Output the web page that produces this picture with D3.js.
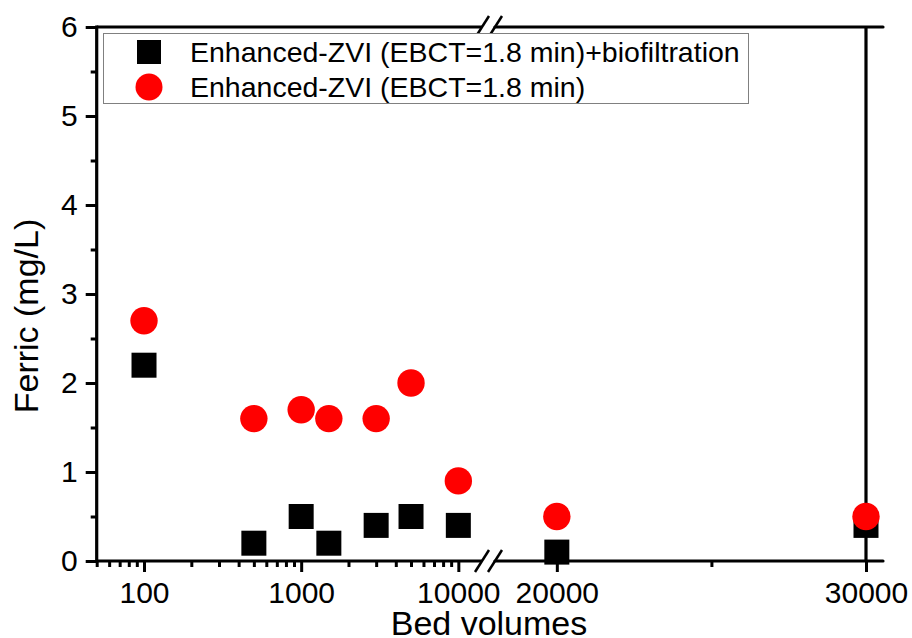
<!DOCTYPE html>
<html>
<head>
<meta charset="utf-8">
<script src="https://cdnjs.cloudflare.com/ajax/libs/d3/7.8.5/d3.min.js"></script>
<style>
	body { margin: 0; background: #fff; }
	svg { display: block; font-family: Arial, "Liberation Sans", sans-serif; }
	.tick text { font-size: 30px; fill: #000; }
	.axis-description { font-size: 34px; fill: #000; }
	.legend-text { font-size: 28.5px; fill: #000; }
</style>
</head>
<body>
<div id="chart"></div>
<script>
const containerWidth = 912;
const containerHeight = 638;

// data
const bedVolumes = [100, 500, 1000, 1500, 3000, 5000, 10000, 20000, 30000];
const ferricBio = [2.2, 0.2, 0.5, 0.2, 0.4, 0.5, 0.4, 0.1, 0.4];
const ferricZvi = [2.7, 1.6, 1.7, 1.6, 1.6, 2.0, 0.9, 0.5, 0.5];
const seriesNames = ["Enhanced-ZVI (EBCT=1.8 min)+biofiltration", "Enhanced-ZVI (EBCT=1.8 min)"];

const leftMajor = [100, 1000, 10000];
const leftMinor = [50, 60, 70, 80, 90, 200, 300, 400, 500, 600, 700, 800, 900,
				   2000, 3000, 4000, 5000, 6000, 7000, 8000, 9000];
const rightMajor = [20000, 30000];
const rightMinor = [25000];
const yMajor = [0, 1, 2, 3, 4, 5, 6];
const yMinor = [0.5, 1.5, 2.5, 3.5, 4.5, 5.5];

const plotLeft = 96.7, plotBottom = 561, plotTop = 27, plotRight = 883;
const breakLeft = 482, breakRight = 495;

const svgContainer = d3.select("#chart")
						.append('svg')
						.attr('width', containerWidth)
						.attr('height', containerHeight);

//Scales (broken x axis: log part + linear part)
const scaleXLeft = d3.scaleLog()
					 .domain([50, 14000])
					 .range([plotLeft, 481.3]);
const scaleXRight = d3.scaleLinear()
					  .domain([18000, 30550])
					  .range([breakRight, plotRight]);
const xPos = (v) => v <= 14000 ? scaleXLeft(v) : scaleXRight(v);

const scaleY = d3.scaleLinear()
				 .domain([0, 6])
				 .range([plotBottom, plotTop]);

//Axes
function styleAxis(g) {
	g.select('.domain').remove();
	g.selectAll('.tick line').attr('stroke', '#000').attr('stroke-width', 3);
}

svgContainer.append('g')
			.attr('transform', 'translate(0,' + plotBottom + ')')
			.call(d3.axisBottom(scaleXLeft).tickValues(leftMinor).tickSize(6).tickFormat(''))
			.call(styleAxis);
svgContainer.append('g')
			.attr('transform', 'translate(0,' + plotBottom + ')')
			.call(d3.axisBottom(scaleXLeft).tickValues(leftMajor).tickSize(11).tickPadding(10).tickFormat(d3.format('d')))
			.call(styleAxis);
svgContainer.append('g')
			.attr('transform', 'translate(0,' + plotBottom + ')')
			.call(d3.axisBottom(scaleXRight).tickValues(rightMinor).tickSize(6).tickFormat(''))
			.call(styleAxis);
svgContainer.append('g')
			.attr('transform', 'translate(0,' + plotBottom + ')')
			.call(d3.axisBottom(scaleXRight).tickValues(rightMajor).tickSize(11).tickPadding(10).tickFormat(d3.format('d')))
			.call(styleAxis);

svgContainer.append('g')
			.attr('transform', 'translate(' + plotLeft + ',0)')
			.call(d3.axisLeft(scaleY).tickValues(yMinor).tickSize(6).tickFormat(''))
			.call(styleAxis);
svgContainer.append('g')
			.attr('transform', 'translate(' + plotLeft + ',0)')
			.call(d3.axisLeft(scaleY).tickValues(yMajor).tickSize(11).tickPadding(8).tickFormat(d3.format('d')))
			.call(styleAxis);

//Frame lines with the break
const frame = svgContainer.append('g')
						  .attr('stroke', '#000')
						  .attr('stroke-width', 3.2);
[plotBottom, plotTop].forEach(y => {
	frame.append('line').attr('x1', plotLeft).attr('x2', breakLeft).attr('y1', y).attr('y2', y);
	frame.append('line').attr('x1', breakRight).attr('x2', plotRight).attr('y1', y).attr('y2', y)
		 .attr('stroke-linecap', 'round');
	[breakLeft, breakRight].forEach(bx => {
		frame.append('line')
			 .attr('x1', bx - 7).attr('y1', y + 11)
			 .attr('x2', bx + 7).attr('y2', y - 11)
			 .attr('stroke-width', 2.5);
	});
});
frame.append('line').attr('x1', plotLeft).attr('x2', plotLeft).attr('y1', plotTop - 1.5).attr('y2', plotBottom + 1.5);
frame.append('line').attr('x1', xPos(30000)).attr('x2', xPos(30000)).attr('y1', plotTop).attr('y2', plotBottom);

//Legend
const legend = svgContainer.append('g');
legend.append('rect')
	  .attr('x', 103.5).attr('y', 33.5)
	  .attr('width', 645).attr('height', 70)
	  .attr('fill', '#fff')
	  .attr('stroke', '#808080')
	  .attr('stroke-width', 1);
legend.append('rect')
	  .attr('x', 149 - 12).attr('y', 52 - 12)
	  .attr('width', 24).attr('height', 24)
	  .attr('fill', '#000');
legend.append('circle')
	  .attr('cx', 149).attr('cy', 87).attr('r', 13.5)
	  .attr('fill', '#ff0000');
legend.selectAll('text')
	  .data(seriesNames)
	  .enter()
	  .append('text')
	  .attr('class', 'legend-text')
	  .attr('x', 190)
	  .attr('y', (d, i) => 62 + i * 35)
	  .text(d => d);

//Markers
svgContainer.append('g')
			.selectAll('rect')
			.data(bedVolumes)
			.enter()
			.append('rect')
			.attr('x', (d) => xPos(d) - 12.5)
			.attr('y', (d, i) => scaleY(ferricBio[i]) - 12.5)
			.attr('width', 25)
			.attr('height', 25)
			.attr('fill', '#000');

svgContainer.append('g')
			.selectAll('circle')
			.data(bedVolumes)
			.enter()
			.append('circle')
			.attr('cx', (d) => xPos(d))
			.attr('cy', (d, i) => scaleY(ferricZvi[i]))
			.attr('r', 13.7)
			.attr('fill', '#ff0000');

//Titles
svgContainer.append('text')
			.text('Ferric (mg/L)')
			.attr('class', 'axis-description')
			.attr('text-anchor', 'middle')
			.attr('transform', 'translate(38,316) rotate(-90)');

svgContainer.append('text')
			.text('Bed volumes')
			.attr('class', 'axis-description')
			.attr('text-anchor', 'middle')
			.attr('x', 489)
			.attr('y', 635);
</script>
</body>
</html>
